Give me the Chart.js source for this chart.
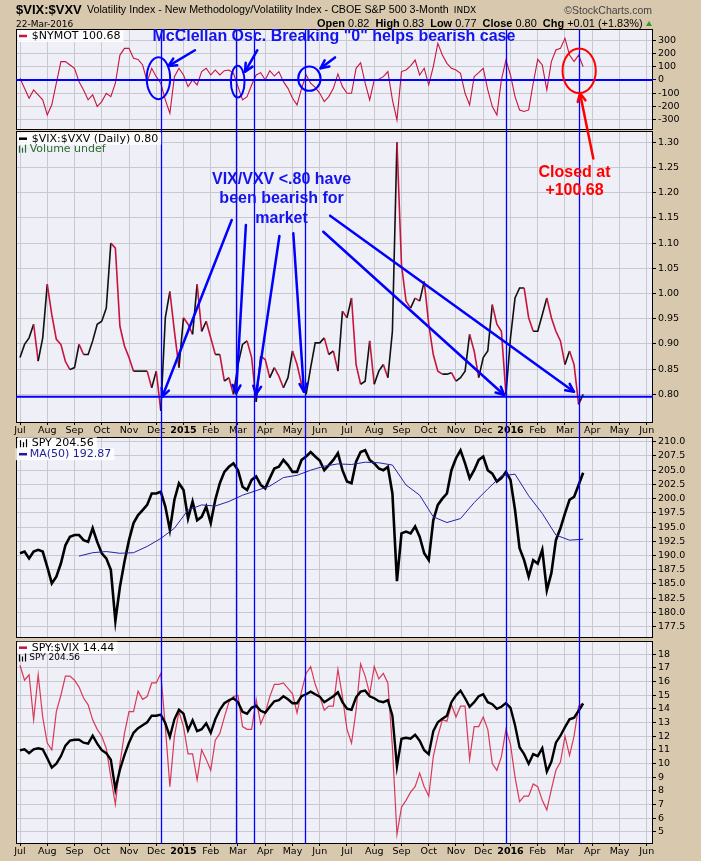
<!DOCTYPE html>
<html>
<head>
<meta charset="utf-8">
<script src="https://cdn.jsdelivr.net/npm/chart.js@4.4.0/dist/chart.umd.min.js"></script>
<style>
  html, body { margin: 0; padding: 0; background: #d8c8ad; width: 701px; height: 861px; overflow: hidden; }
  canvas { position: absolute; left: 0; }
  #overlay { top: 0; pointer-events: none; }
</style>
</head>
<body>
<canvas id="p1"></canvas>
<canvas id="p2"></canvas>
<canvas id="p3"></canvas>
<canvas id="p4"></canvas>
<canvas id="overlay" width="701" height="861"></canvas>
<script>
// samples are taken 6 per month, month 0 = Jul 2014
const STEPS = 6;
const monthLabels = ['Jul','Aug','Sep','Oct','Nov','Dec','2015','Feb','Mar','Apr','May','Jun',
                     'Jul','Aug','Sep','Oct','Nov','Dec','2016','Feb','Mar','Apr','May','Jun'];

// $NYMOT (McClellan oscillator)
const nymot = [13,-64,-140,-76,-114,-152,-267,-190,-25,140,
  140,114,89,-13,-76,-152,-114,-203,-165,-102,
  -127,-25,190,241,241,165,157,114,-13,89,
  25,-25,-152,-254,25,89,38,-51,0,-38,
  64,89,38,76,38,71,76,51,-51,-152,
  -127,-38,38,56,0,71,30,64,-13,-64,
  -140,-190,-64,38,-25,-56,-102,-165,-127,-64,
  46,-51,-102,-102,89,132,-25,-152,0,5,
  25,64,-152,-305,64,76,107,152,38,89,
  -38,102,279,190,127,89,76,51,-102,-190,
  25,56,89,-76,-203,-267,0,152,38,-127,
  -229,-241,-229,-25,157,114,-76,140,229,241,
  318,190,140,190,100.68];

// $VIX:$VXV
const vixVxv = [0.873,0.899,0.912,0.939,0.866,0.912,1.018,0.958,0.909,0.899,
  0.865,0.849,0.853,0.899,0.879,0.879,0.906,0.939,0.945,0.971,
  1.100,1.090,0.935,0.896,0.873,0.846,0.846,0.846,0.846,0.813,
  0.846,0.767,0.952,1.004,0.925,0.853,0.952,0.939,0.919,1.018,
  0.925,0.945,0.912,0.879,0.879,0.826,0.833,0.800,0.859,0.899,
  0.906,0.873,0.785,0.876,0.869,0.833,0.853,0.836,0.813,0.833,
  0.886,0.859,0.820,0.800,0.853,0.902,0.902,0.912,0.879,0.886,
  0.846,0.965,0.952,0.991,0.859,0.820,0.826,0.906,0.820,0.846,
  0.859,0.833,0.925,1.300,1.057,0.985,0.971,0.991,0.985,1.024,
  0.939,0.879,0.846,0.840,0.840,0.843,0.826,0.833,0.846,0.919,
  0.886,0.833,0.873,0.886,0.978,0.939,0.925,0.800,0.912,0.991,
  1.011,1.011,0.952,0.925,0.925,0.958,0.991,0.952,0.925,0.906,
  0.859,0.886,0.859,0.780,0.800];

// SPY price
const spy = [190.4,190.7,189.5,190.7,191.0,190.7,188.0,185.1,186.3,188.6,
  191.8,193.3,193.6,193.6,192.7,192.4,194.8,192.4,190.4,189.5,
  187.5,178.5,184.5,188.9,192.7,195.7,197.1,198.0,198.9,200.9,
  200.9,201.2,198.6,194.5,199.8,202.7,201.5,196.5,199.5,196.2,
  196.8,198.6,195.7,199.8,202.7,204.7,205.6,206.2,205.0,202.1,
  201.5,203.3,203.9,202.4,201.8,203.6,205.3,205.6,206.8,205.9,
  204.7,204.7,206.8,207.4,208.2,207.4,206.7,205.0,205.9,206.8,
  208.0,205.0,203.0,202.7,206.5,208.2,208.5,206.8,206.2,205.3,
  205.0,205.6,200.9,185.5,193.9,194.2,193.9,195.1,193.3,190.4,
  189.2,196.2,198.9,200.0,200.9,205.0,207.1,208.5,206.2,203.6,
  205.0,206.8,207.4,205.0,204.4,203.0,203.6,204.7,203.3,198.0,
  191.3,189.2,186.3,189.2,188.6,191.0,183.9,186.9,192.7,194.8,
  197.4,199.8,200.3,202.4,204.56];

// SPY 50-day MA, every 3rd sample starting at sample 13
const MA_START = 13, MA_STEP = 3;
const spyMa50 = [189.9,190.5,190.7,190.4,190.5,191.6,193.0,194.8,198.0,198.9,
  198.7,199.5,200.6,201.4,202.2,203.7,204.1,205.0,205.7,206.1,
  206.0,206.4,206.3,205.9,202.4,200.6,196.8,195.8,196.5,199.3,
  201.7,204.0,204.3,200.5,197.4,193.6,192.7,192.87];

// SPY:$VIX ratio
const spyVix = [17.2,16.1,16.5,13.2,16.5,13.4,11.5,11.0,13.8,15.0,
  16.4,16.4,16.1,15.6,14.8,14.3,13.2,12.5,12.0,11.1,
  9.0,7.0,10.0,12.2,13.8,13.8,15.3,14.7,14.9,15.9,
  15.9,16.6,12.7,8.3,12.0,13.8,12.7,10.7,10.7,8.8,
  11.0,10.3,9.5,11.7,12.2,13.4,14.5,14.9,15.0,12.7,
  12.5,12.5,14.7,12.9,13.7,14.9,15.8,15.8,15.9,15.5,
  15.1,13.7,15.3,16.6,17.1,15.8,14.9,13.9,14.2,14.2,
  16.9,14.9,12.5,11.5,13.9,17.3,16.4,15.1,17.1,16.2,
  16.6,15.9,11.2,4.8,6.8,7.3,7.9,8.3,9.3,8.3,
  7.6,10.5,12.0,13.2,13.1,14.3,13.4,14.2,14.2,10.3,
  12.7,12.7,13.4,12.5,10.0,9.5,10.5,12.5,11.4,9.0,
  7.2,7.6,7.6,8.5,8.3,7.3,6.6,8.1,9.5,10.1,
  12.0,10.6,12.0,14.2,14.44];

// y tick labels per panel
const nymotTicks = [-300,-200,-100,0,100,200,300];
const ratioTicks = [0.80,0.85,0.90,0.95,1.00,1.05,1.10,1.15,1.20,1.25,1.30];
const spyTicks = [177.5,180,182.5,185,187.5,190,192.5,195,197.5,200,202.5,205,207.5,210];
const spyVixTicks = [5,6,7,8,9,10,11,12,13,14,15,16,17,18];

// annotation anchors, in months / panel values
const markerMonths = [5.19, 7.92, 8.60, 10.47, 17.82, 20.52];
const nymotZero = 0;
const ratioLine = 0.795;

const BLUE = '#0000ff';
const RED = '#ff0000';
const CRIMSON = '#c8143c';
const PLOT_BG = '#efeff7';
const GRID = '#c9c9cf';
const SANS = '"Liberation Sans", Arial, sans-serif';
const DEJAVU = '"DejaVu Sans", sans-serif';
const X_MIN = -0.147, X_MAX = 23.23;

const panels = [
  { id: 'p1', top: 19,  height: 121, padTop: 10, padBottom: 10, xLabels: false },
  { id: 'p2', top: 121, height: 316, padTop: 10, padBottom: 0,  xLabels: true },
  { id: 'p3', top: 427, height: 221, padTop: 10, padBottom: 10, xLabels: false },
  { id: 'p4', top: 631, height: 227, padTop: 10, padBottom: 0,  xLabels: true }
];

const toPoints = arr => arr.map((v, i) => ({ x: i / STEPS, y: v }));
const maPoints = spyMa50.map((v, k) => ({ x: (MA_START + k * MA_STEP) / STEPS, y: v }));

const panelFrame = {
  id: 'panelFrame',
  beforeDraw(ch) {
    const a = ch.chartArea, g = ch.ctx;
    g.save();
    g.fillStyle = PLOT_BG;
    g.fillRect(a.left, a.top, a.right - a.left, a.bottom - a.top);
    g.restore();
  },
  afterDraw(ch) {
    const a = ch.chartArea, g = ch.ctx;
    g.save();
    g.strokeStyle = '#000';
    g.lineWidth = 1;
    g.strokeRect(a.left + 0.5, a.top + 0.5, a.right - a.left - 1, a.bottom - a.top - 1);
    g.restore();
  }
};

function makeChart(k, datasets, yOpts, extraScales) {
  const p = panels[k];
  const cv = document.getElementById(p.id);
  cv.width = 701;
  cv.height = p.height;
  cv.style.top = p.top + 'px';
  const scales = {
    x: {
      type: 'linear', min: X_MIN, max: X_MAX,
      afterBuildTicks: s => { s.ticks = monthLabels.map((l, i) => ({ value: i })); },
      afterFit: s => { s.height = p.xLabels ? 14 : 0; },
      grid: { color: GRID, drawTicks: p.xLabels, tickLength: 2, tickColor: '#000' },
      border: { display: false },
      ticks: {
        display: p.xLabels, autoSkip: false, maxRotation: 0, padding: 0, color: '#000',
        callback: v => monthLabels[Math.round(v)],
        font: ctx => ({ family: DEJAVU, size: 9.5,
          weight: /^\d{4}$/.test(ctx.tick && ctx.tick.label) ? 'bold' : 'normal' })
      }
    },
    y: {
      position: 'right', min: yOpts.min, max: yOpts.max,
      afterBuildTicks: s => { s.ticks = yOpts.ticks.map(v => ({ value: v })); },
      afterFit: s => { s.width = 48; },
      grid: { color: GRID, tickLength: 3, tickColor: '#000' },
      border: { display: false },
      ticks: { color: '#000', padding: 2, font: { family: DEJAVU, size: 9.5 }, callback: yOpts.fmt }
    }
  };
  Object.assign(scales, extraScales || {});
  return new Chart(cv, {
    type: 'line',
    data: { datasets },
    options: {
      responsive: false, animation: false, events: [],
      layout: { padding: { left: 16, right: 0, top: p.padTop, bottom: p.padBottom } },
      plugins: { legend: { display: false }, tooltip: { enabled: false } },
      elements: { point: { radius: 0 }, line: { tension: 0 } },
      scales
    },
    plugins: [panelFrame]
  });
}

const charts = [];
charts.push(makeChart(0, [
  { data: toPoints(nymot), borderColor: CRIMSON, borderWidth: 1.1 }
], { min: -382, max: 389, ticks: nymotTicks, fmt: v => String(v) }));

charts.push(makeChart(1, [
  { data: toPoints(vixVxv), borderWidth: 1.6, borderColor: '#111',
    segment: { borderColor: ctx => ctx.p1.parsed.y < ctx.p0.parsed.y ? CRIMSON : '#111' } }
], { min: 0.7431, max: 1.3224, ticks: ratioTicks, fmt: v => v.toFixed(2) }));

charts.push(makeChart(2, [
  { data: maPoints, borderColor: '#2424a8', borderWidth: 1 },
  { data: toPoints(spy), borderColor: '#000', borderWidth: 2.6 }
], { min: 175.51, max: 210.83, ticks: spyTicks, fmt: v => v.toFixed(1) }));

charts.push(makeChart(3, [
  { data: toPoints(spy), borderColor: '#000', borderWidth: 2.4, yAxisID: 'y2' },
  { data: toPoints(spyVix), borderColor: 'rgba(215,25,60,0.85)', borderWidth: 1.2 }
], { min: 4.099, max: 18.975, ticks: spyVixTicks, fmt: v => String(v) },
   { y2: { type: 'linear', display: false, min: 161.9, max: 223.6 } }));

// ---------- overlay: header, legends, notes ----------
const ov = document.getElementById('overlay');
const c = ov.getContext('2d');

function P(k, m, v, axis) {
  const ch = charts[k];
  return [ch.scales.x.getPixelForValue(m), panels[k].top + ch.scales[axis || 'y'].getPixelForValue(v)];
}

function arrow(a, b, color, w) {
  c.save();
  c.strokeStyle = color; c.lineWidth = w; c.lineCap = 'round'; c.lineJoin = 'round';
  c.beginPath(); c.moveTo(a[0], a[1]); c.lineTo(b[0], b[1]); c.stroke();
  const ang = Math.atan2(b[1] - a[1], b[0] - a[0]), h = 9;
  c.beginPath();
  c.moveTo(b[0] - h * Math.cos(ang - 0.45), b[1] - h * Math.sin(ang - 0.45));
  c.lineTo(b[0], b[1]);
  c.lineTo(b[0] - h * Math.cos(ang + 0.45), b[1] - h * Math.sin(ang + 0.45));
  c.stroke();
  c.restore();
}

function ring(k, m, v, rm, rv, color) {
  const ctr = P(k, m, v), ex = P(k, m + rm, v + rv);
  c.save();
  c.strokeStyle = color; c.lineWidth = 2;
  c.beginPath();
  c.ellipse(ctr[0], ctr[1], Math.abs(ex[0] - ctr[0]), Math.abs(ex[1] - ctr[1]), 0, 0, Math.PI * 2);
  c.stroke();
  c.restore();
}

function label(text, x, y, font, color, align) {
  c.font = font; c.fillStyle = color; c.textAlign = align || 'left'; c.textBaseline = 'middle';
  c.fillText(text, x, y);
}

// vertical marker lines across all panels
const top0 = panels[0].top + charts[0].chartArea.top;
const bot3 = panels[3].top + charts[3].chartArea.bottom;
c.strokeStyle = BLUE; c.lineWidth = 1.3;
markerMonths.forEach(m => {
  const x = Math.round(charts[0].scales.x.getPixelForValue(m)) + 0.5;
  c.beginPath(); c.moveTo(x, top0); c.lineTo(x, bot3); c.stroke();
});

// horizontal lines
c.lineWidth = 2;
[[0, nymotZero], [1, ratioLine]].forEach(([k, v]) => {
  const a = charts[k].chartArea;
  const y = P(k, 0, v)[1];
  c.beginPath(); c.moveTo(a.left, y); c.lineTo(a.right, y); c.stroke();
});

// circles in the McClellan panel
ring(0, 5.08, 13, 0.43, 160, BLUE);
ring(0, 7.99, -13, 0.25, 121, BLUE);
ring(0, 10.62, 10, 0.41, 93, BLUE);
ring(0, 20.52, 70, 0.61, 170, RED);

arrow(P(0, 6.42, 227), P(0, 5.44, 106), BLUE, 2.5);
arrow(P(0, 8.71, 227), P(0, 8.26, 63), BLUE, 2.5);
arrow(P(0, 11.56, 172), P(0, 11.03, 89), BLUE, 2.5);

// arrows in the ratio panel
[[[7.77, 1.1458], [5.22, 0.7953]],
 [[8.29, 1.1359], [7.93, 0.802]],
 [[9.52, 1.1141], [8.66, 0.800]],
 [[10.03, 1.1195], [10.42, 0.805]],
 [[11.38, 1.1544], [20.33, 0.805]],
 [[11.13, 1.1226], [17.77, 0.7986]]].forEach(([a, b]) => arrow(P(1, a[0], a[1]), P(1, b[0], b[1]), BLUE, 2.5));

// red arrow from note up to the red circle
arrow(P(1, 21.04, 1.268), P(0, 20.55, -101), RED, 2.5);

// note texts
const noteFont = 'bold 16px ' + SANS;
let q = P(0, 11.52, 330);
label('McClellan Osc. Breaking "0" helps bearish case', q[0], q[1], noteFont, '#1414ee', 'center');
q = P(1, 9.60, 1.2266); label('VIX/VXV <.80 have', q[0], q[1], noteFont, '#1414ee', 'center');
q = P(1, 9.60, 1.1875); label('been bearish for', q[0], q[1], noteFont, '#1414ee', 'center');
q = P(1, 9.60, 1.1478); label('market', q[0], q[1], noteFont, '#1414ee', 'center');
q = P(1, 20.35, 1.240); label('Closed at', q[0], q[1], noteFont, RED, 'center');
q = P(1, 20.35, 1.2034); label('+100.68', q[0], q[1], noteFont, RED, 'center');

// legends
const legFont = '11px ' + DEJAVU;
function legendBox(x, y, text, font) {
  c.font = font;
  const w = c.measureText(text).width;
  c.fillStyle = 'rgba(255,255,255,0.85)';
  c.fillRect(x - 14, y - 6, w + 17, 12);
}
function dash(x, y, color) {
  c.strokeStyle = color; c.lineWidth = 2.5; c.lineCap = 'butt';
  c.beginPath(); c.moveTo(x, y); c.lineTo(x + 8, y); c.stroke();
}
function barsIcon(x, y, color) {
  c.strokeStyle = color; c.lineWidth = 1.2;
  [[0, 7], [3, 5], [6, 8]].forEach(([dx, h]) => {
    c.beginPath(); c.moveTo(x + dx + 0.5, y + 4); c.lineTo(x + dx + 0.5, y + 4 - h); c.stroke();
  });
}
function legendRow(k, dy) { return panels[k].top + charts[k].chartArea.top + dy; }

let ly = legendRow(0, 7);
legendBox(31.7, ly, '$NYMOT 100.68', legFont);
dash(19, ly, CRIMSON); label('$NYMOT 100.68', 31.7, ly, legFont, '#000');

ly = legendRow(1, 7.7);
legendBox(31.7, ly, '$VIX:$VXV (Daily) 0.80', legFont);
dash(19, ly, '#000'); label('$VIX:$VXV (Daily) 0.80', 31.7, ly, legFont, '#000');
ly = legendRow(1, 17.7);
barsIcon(19, ly, '#2e6b2e'); label('Volume undef', 29.7, ly, legFont, '#2e6b2e');

ly = legendRow(2, 6.2);
legendBox(31.7, ly, 'SPY 204.56', legFont);
barsIcon(20, ly, '#000'); label('SPY 204.56', 31.7, ly, legFont, '#000');
ly = legendRow(2, 17.2);
legendBox(29.7, ly, 'MA(50) 192.87', legFont);
dash(19, ly, '#1c1c9c'); label('MA(50) 192.87', 29.7, ly, legFont, '#1c1c9c');

ly = legendRow(3, 6.7);
legendBox(31.7, ly, 'SPY:$VIX 14.44', legFont);
dash(19, ly, CRIMSON); label('SPY:$VIX 14.44', 31.7, ly, legFont, '#000');
ly = legendRow(3, 16.5);
barsIcon(19, ly, '#000'); label('SPY 204.56', 29.3, ly, '9px ' + DEJAVU, '#000');

// header
c.textBaseline = 'alphabetic'; c.textAlign = 'left'; c.fillStyle = '#000';
c.font = 'bold 13px ' + SANS;
c.fillText('$VIX:$VXV', 16, 13.5);
c.font = '10.7px ' + SANS;
const sub = 'Volatility Index - New Methodology/Volatility Index - CBOE S&P 500 3-Month';
c.fillText(sub, 87, 13);
const subW = c.measureText(sub).width;
c.font = '9px ' + DEJAVU;
c.fillText('INDX', 87 + subW + 5, 13);
c.fillText('22-Mar-2016', 16, 26.5);

c.textAlign = 'right'; c.fillStyle = '#444';
c.font = '10.5px ' + SANS;
c.fillText('\u00a9StockCharts.com', 652, 13.5);

const info = [['Open', true], [' 0.82  ', false], ['High', true], [' 0.83  ', false], ['Low', true],
  [' 0.77  ', false], ['Close', true], [' 0.80  ', false], ['Chg', true], [' +0.01 (+1.83%)', false]];
function infoWidth(size) {
  return info.reduce((s, [t, b]) => { c.font = (b ? 'bold ' : '') + size + 'px ' + SANS; return s + c.measureText(t).width; }, 0);
}
const infoSize = 11 * 326 / infoWidth(11);
let ix = 317;
c.textAlign = 'left'; c.fillStyle = '#000';
info.forEach(([t, b]) => {
  c.font = (b ? 'bold ' : '') + infoSize + 'px ' + SANS;
  c.fillText(t, ix, 26.7);
  ix += c.measureText(t).width;
});
c.fillStyle = '#339933';
c.beginPath(); c.moveTo(646, 26); c.lineTo(652, 26); c.lineTo(649, 21); c.closePath(); c.fill();
</script>
</body>
</html>
